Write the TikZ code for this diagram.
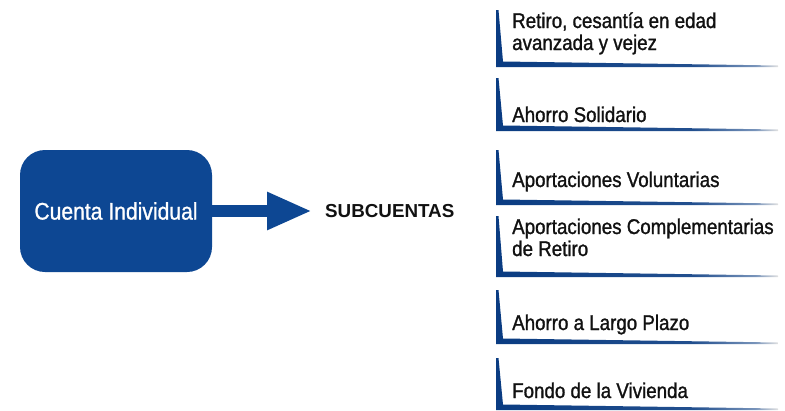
\documentclass[tikz,border=0pt]{standalone}
\usepackage{fontspec}
\usetikzlibrary{arrows.meta}
\newfontfamily\itemfont{Liberation Sans}[FakeStretch=0.88,FakeBold=1.2]
\newfontfamily\headfont{Liberation Sans}[FakeStretch=0.88,FakeBold=0.9]
\newfontfamily\subfont{Liberation Sans Bold}
\definecolor{bdark}{HTML}{0A3C82}
\definecolor{bbox}{HTML}{0D4793}
\definecolor{txt}{HTML}{111111}
\pgfdeclarehorizontalshading{barshade}{100bp}{color(0bp)=(bdark); color(25bp)=(bdark); color(60bp)=(bdark!90!white); color(71bp)=(bdark!55!white); color(75bp)=(black!12); color(100bp)=(black!12)}
\tikzset{
  itemtext/.style={anchor=base west, inner sep=0pt, text=txt, font=\itemfont\fontsize{21.3}{22}\selectfont},
  bar/.style={shading=barshade},
}
\newcommand{\itembar}[2]{%
  \shade[bar] (496,#1) -- (498.5,#1) -- (503,#2-5.5) -- (778,#2-1.5) -- (778,#2) -- (496,#2) -- cycle;}
\begin{document}
\begin{tikzpicture}[x=1pt,y=-1pt]
\useasboundingbox (0,0) rectangle (785,410);
% left box
\node[draw=none, fill=bbox, rounded corners=25pt, minimum width=192pt, minimum height=122pt, inner sep=0pt,
      text=white, font=\headfont\fontsize{24}{26}\selectfont] (cuenta) at (116,211) {Cuenta Individual};
% SUBCUENTAS
\node[anchor=base west, inner sep=0pt, text=txt, font=\subfont\fontsize{18.8}{20}\selectfont] (sub) at (325,217) {SUBCUENTAS};
% arrow
\draw[bbox, line width=12pt, -{Triangle[width=35pt,length=45pt]}, shorten >=13pt] (cuenta.east) -- (sub.west|-cuenta.east);
% item bars
\itembar{10}{67}
\itembar{78}{131}
\itembar{150}{205}
\itembar{216}{277}
\itembar{290}{344}
\itembar{358}{410}
% item texts
\node[itemtext] (s1) at (512,28) {\parbox[t]{270pt}{\baselineskip=22pt Retiro, cesantía en edad\\avanzada y vejez}};
\node[itemtext] (s2) at (512,122) {Ahorro Solidario};
\node[itemtext] (s3) at (512,187) {Aportaciones Voluntarias};
\node[itemtext] (s4) at (512,234) {\parbox[t]{270pt}{\baselineskip=22pt Aportaciones Complementarias\\de Retiro}};
\node[itemtext] (s5) at (512,330) {Ahorro a Largo Plazo};
\node[itemtext] (s6) at (512,398) {Fondo de la Vivienda};
\end{tikzpicture}
\end{document}
